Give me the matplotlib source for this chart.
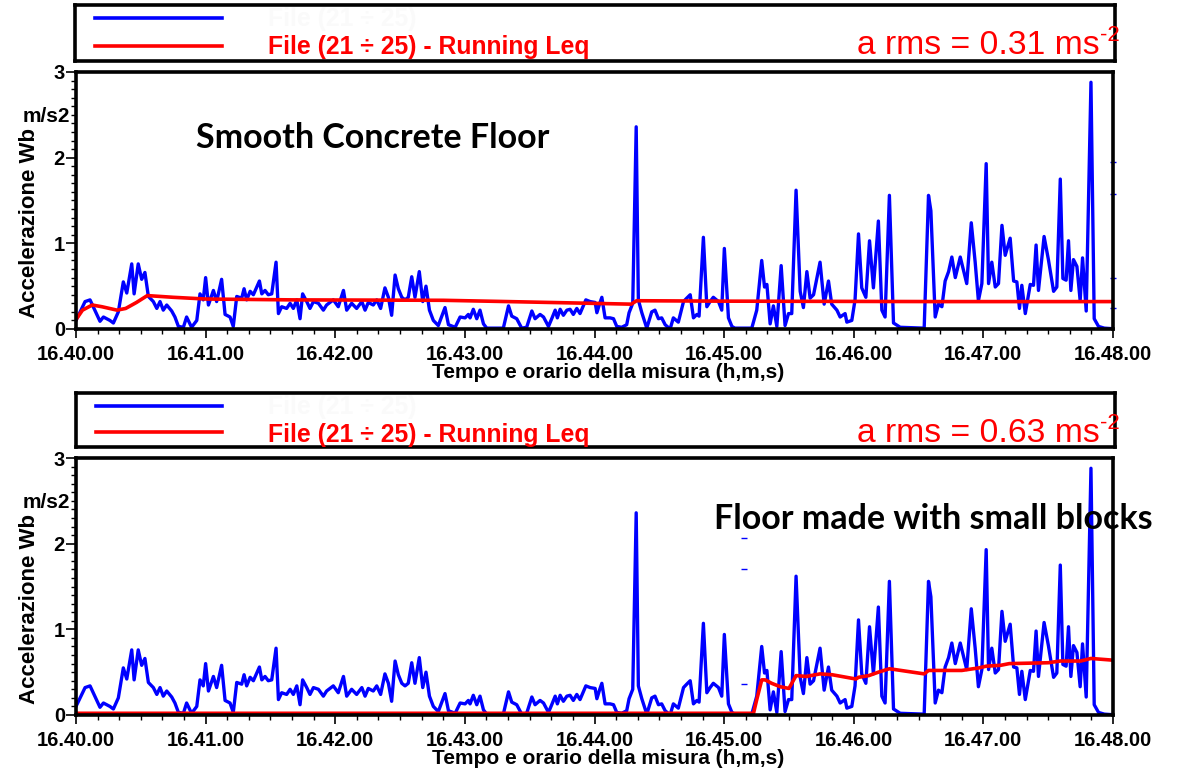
import matplotlib.pyplot as plt
from matplotlib.ticker import MultipleLocator, FuncFormatter

plt.rcParams['font.family'] = ['Liberation Sans', 'DejaVu Sans']

W, H = 1187, 772

# accelerazione Wb (m/s2), tempo in secondi dalle 16.40.00
t_acc = [0, 4.2, 6.5, 11.1, 12.7, 15.7, 17.3, 19.6, 21.9, 23.5, 25.8, 26.9, 28.8, 30.4, 31.9,
         33.5, 35.8, 37.4, 38.9, 40.4, 42.0, 44.3, 45.8, 47.4, 49.7, 51.2, 53.5, 55.9, 57.4,
         58.9, 60.0, 61.3, 63.6, 65.1, 67.4, 69.0, 71.3, 72.8, 74.4, 76.7, 77.8, 79.0, 80.6,
         82.1, 84.9, 86.0, 87.5, 89.0, 90.6, 92.6, 93.7, 95.2, 97.5, 99.1, 100.6, 102.2, 103.7,
         104.9, 106.8, 108.3, 109.9, 112.2, 114.5, 116.0, 119.1, 121.4, 123.8, 125.3, 127.6,
         129.9, 132.3, 133.8, 135.3, 137.6, 139.2, 141.0, 143.0, 144.6, 146.1, 147.7, 149.2,
         150.8, 152.3, 153.8, 155.4, 156.9, 158.9, 160.5, 162.0, 163.6, 165.4, 167.7, 170.8,
         172.4, 175.5, 177.8, 180.1, 181.6, 182.4, 183.9, 185.5, 187.0, 188.6, 190.1, 197.8,
         200.2, 201.7, 204.0, 206.3, 208.6, 211.0, 212.5, 214.8, 216.4, 218.7, 220.2, 221.8,
         222.8, 224.1, 225.6, 227.2, 228.7, 230.2, 231.8, 233.3, 236.0, 238.0, 240.3, 241.1,
         242.3, 243.4, 244.9, 247.2, 248.8, 250.3, 252.6, 254.9, 256.0, 257.7, 259.3, 260.3,
         261.9, 264.2, 266.5, 268.0, 269.6, 271.1, 272.7, 275.0, 276.5, 278.8, 281.2, 282.7,
         284.3, 285.8, 287.4, 288.4, 290.4, 292.0, 293.5, 295.0, 297.4, 298.9, 300.1, 302.0,
         303.6, 305.0, 312.8, 315.1, 317.4, 318.7, 319.8, 321.3, 322.8, 324.4, 326.4, 328.2,
         329.8, 331.3, 333.3, 335.2, 336.7, 338.3, 339.8, 341.4, 344.4, 346.3, 348.3, 349.8,
         352.2, 353.7, 356.0, 356.8, 359.1, 360.6, 362.2, 363.7, 365.6, 367.3, 369.1, 371.4,
         373.0, 374.5, 376.5, 378.4, 381.5, 392.6, 394.6, 395.7, 397.7, 399.2, 400.8, 402.3,
         403.9, 405.4, 407.0, 409.3, 412.3, 414.4, 416.2, 417.7, 419.3, 421.3, 422.4, 423.9,
         425.5, 427.0, 428.6, 430.1, 432.4, 434.0, 435.5, 436.7, 437.8, 439.4, 441.7, 443.2,
         444.4, 445.5, 448.1, 450.1, 452.5, 454.0, 455.6, 456.8, 458.3, 459.4, 460.5, 461.7,
         463.3, 464.8, 465.9, 467.6, 469.8, 471.3, 473.3, 476.0, 482.0]
a_acc = [0.10, 0.32, 0.34, 0.09, 0.14, 0.10, 0.07, 0.20, 0.55, 0.42, 0.76, 0.41, 0.76, 0.58, 0.66,
         0.38, 0.32, 0.24, 0.32, 0.22, 0.28, 0.21, 0.14, 0.03, 0.02, 0.14, 0.02, 0.10, 0.41,
         0.34, 0.60, 0.28, 0.45, 0.32, 0.58, 0.17, 0.14, 0.03, 0.38, 0.36, 0.47, 0.34, 0.44,
         0.40, 0.56, 0.41, 0.45, 0.40, 0.41, 0.78, 0.18, 0.26, 0.24, 0.30, 0.24, 0.34, 0.12,
         0.41, 0.32, 0.24, 0.32, 0.30, 0.22, 0.28, 0.34, 0.26, 0.45, 0.22, 0.30,
         0.24, 0.32, 0.22, 0.31, 0.28, 0.34, 0.24, 0.48, 0.37, 0.16, 0.63, 0.47,
         0.37, 0.34, 0.37, 0.61, 0.37, 0.67, 0.32, 0.50, 0.22, 0.10, 0.04, 0.25,
         0.05, 0.02, 0.14, 0.13, 0.17, 0.13, 0.23, 0.12, 0.22, 0.06, 0.01, 0.01,
         0.27, 0.15, 0.12, 0.01, 0.02, 0.21, 0.12, 0.17, 0.14, 0.03, 0.12, 0.22,
         0.13, 0.23, 0.16, 0.22, 0.23, 0.17, 0.24, 0.18, 0.34, 0.32, 0.31, 0.19,
         0.29, 0.37, 0.13, 0.13, 0.12, 0.03, 0.02, 0.05, 0.19, 0.30, 2.36, 0.34,
         0.19, 0.01, 0.20, 0.22, 0.12, 0.13, 0.05, 0.00, 0.13, 0.08, 0.32, 0.36,
         0.40, 0.13, 0.17, 0.15, 1.07, 0.26, 0.32, 0.37, 0.32, 0.22, 0.94, 0.13,
         0.03, 0.01, 0.01, 0.22, 0.80, 0.49, 0.52, 0.06, 0.27, 0.03, 0.74, 0.04,
         0.18, 0.18, 1.62, 0.44, 0.25, 0.67, 0.36, 0.40, 0.78, 0.29, 0.56, 0.29,
         0.22, 0.14, 0.18, 0.08, 0.10, 0.34, 1.11, 0.48, 0.37, 1.03, 0.48, 1.26,
         0.22, 0.14, 1.56, 0.07, 0.02, 0.01, 1.56, 1.38, 0.14, 0.29, 0.26, 0.56,
         0.67, 0.84, 0.60, 0.84, 0.53, 1.24, 0.78, 0.33, 0.53, 1.93, 0.53, 0.78,
         0.49, 0.53, 1.21, 0.86, 1.06, 0.56, 0.55, 0.24, 0.51, 0.18, 0.52, 0.51,
         0.98, 0.45, 1.08, 0.81, 0.44, 0.49, 1.75, 0.59, 0.57, 1.03, 0.45, 0.81,
         0.73, 0.33, 0.83, 0.21, 2.88, 0.12, 0.03, 0.01, 0.00]

# Running Leq - pavimento liscio
t_leq1 = [0, 3, 7.5, 12, 19, 23, 28, 33, 45, 60, 100, 170, 200, 257, 259.5, 300, 400, 480]
a_leq1 = [0.11, 0.22, 0.28, 0.26, 0.22, 0.24, 0.31, 0.39, 0.37, 0.35, 0.34, 0.335, 0.32,
          0.29, 0.33, 0.325, 0.32, 0.32]

# Running Leq - pavimento a blocchetti
t_leq2 = [0, 313.6, 315, 317.4, 319, 322, 326, 330, 333.3, 338, 344.4, 350, 361, 362.2, 367,
          371.4, 376.5, 392.6, 394.6, 410, 418, 421.3, 428, 432, 450, 455.6, 465, 469.8, 480]
a_leq2 = [0.02, 0.02, 0.17, 0.41, 0.41, 0.37, 0.33, 0.31, 0.46, 0.45, 0.48, 0.47, 0.42, 0.44,
          0.46, 0.50, 0.54, 0.48, 0.52, 0.52, 0.55, 0.57, 0.58, 0.60, 0.61, 0.63, 0.63, 0.66, 0.64]

# trattini blu sparsi
t_dash1 = [480, 480, 480, 480]
a_dash1 = [1.95, 1.58, 0.60, 0.24]
t_dash2 = [309.3, 309.3, 309.3]
a_dash2 = [2.07, 1.70, 0.36]

rms_values = ['0.31', '0.63']
notes = ['Smooth Concrete Floor', 'Floor made with small blocks']


def fx(x):
    return x / W


def fy(y):
    return 1 - y / H


def draw_panel(leg_box, ax_box, t_leq, a_leq, t_dash, a_dash, rms, note, note_xy, y0):
    # riquadro legenda
    lx0, ly0, lx1, ly1 = leg_box
    lg = fig.add_axes([fx(lx0), fy(ly1), fx(lx1 - lx0), (ly1 - ly0) / H])
    lg.set_xlim(0, 1)
    lg.set_ylim(0, 1)
    lg.set_xticks([])
    lg.set_yticks([])
    for s in lg.spines.values():
        s.set_linewidth(2.6)
    lg.plot([0.019, 0.141], [0.76, 0.76], color='#0000ff', lw=2.6)
    lg.plot([0.019, 0.141], [0.27, 0.27], color='#ff0000', lw=2.6)
    fig.text(fx(268), fy(ly0 + 14), 'File (21 \u00f7 25)', color='#fafafa', fontsize=17.8,
             fontweight='bold', va='center')
    fig.text(fx(268), fy(ly0 + 42), 'File (21 \u00f7 25) - Running Leq', color='#ff0000',
             fontsize=17.8, fontweight='bold', va='center')
    fig.text(fx(1100), fy(ly0 + 49), 'a rms = %s ms' % rms,
             color='#ff0000', fontsize=24.2, ha='right', va='baseline')
    fig.text(fx(1100), fy(ly0 + 36), '-2', color='#ff0000', fontsize=16,
             ha='left', va='baseline')

    # grafico
    x0, yt, x1, yb = ax_box
    ax = fig.add_axes([fx(x0), fy(yb), fx(x1 - x0), (yb - yt) / H])
    ax.plot(t_acc, a_acc, color='#0000ff', lw=2.4, zorder=2)
    ax.plot(t_leq, a_leq, color='#ff0000', lw=2.6, zorder=3)
    ax.plot(t_dash, a_dash, ls='none', marker='_', ms=4, mew=1, color='#0000ff', clip_on=False)
    ax.set_xlim(0, 480)
    ax.set_ylim(0, 3)
    for s in ax.spines.values():
        s.set_linewidth(2.6)
        s.set_zorder(4)
    ax.xaxis.set_major_locator(MultipleLocator(60))
    ax.xaxis.set_minor_locator(MultipleLocator(10))
    ax.yaxis.set_major_locator(MultipleLocator(1))
    ax.yaxis.set_minor_locator(MultipleLocator(0.1))
    ax.xaxis.set_major_formatter(FuncFormatter(lambda v, p: '16.%d.00' % (40 + int(round(v / 60)))))
    ax.tick_params(axis='x', which='major', length=6.5, width=1.2, pad=5, labelsize=14.5)
    ax.tick_params(axis='x', which='minor', length=3.6, width=1.0)
    ax.tick_params(axis='y', which='major', length=7, width=1.2, pad=1, labelsize=14.5)
    ax.tick_params(axis='y', which='minor', length=3.6, width=1.0)
    for lab in ax.get_xticklabels() + ax.get_yticklabels():
        lab.set_fontweight('bold')

    fig.text(fx(608), fy(y0 + 301), 'Tempo e orario della misura (h,m,s)', fontsize=15,
             fontweight='bold', ha='center', va='center')
    fig.text(fx(30), fy(y0 + 151), 'Accelerazione Wb', fontsize=16, fontweight='bold',
             rotation=90, ha='center', va='center')
    fig.text(fx(46), fy(y0 + 44), 'm/s2', fontsize=15, fontweight='bold', ha='center', va='center')
    fig.text(fx(note_xy[0]), fy(note_xy[1]), note, fontsize=24.5, fontweight='bold',
             family=['Lato', 'DejaVu Sans'], ha='left', va='baseline')
    return ax


fig = plt.figure(figsize=(W / 100, H / 100), dpi=100)

draw_panel((75, 5, 1115, 61), (76, 72, 1113, 329), t_leq1, a_leq1, t_dash1, a_dash1,
           rms_values[0], notes[0], (196, 148), 72)
draw_panel((76, 393, 1115, 447), (76, 458, 1113, 715), t_leq2, a_leq2, t_dash2, a_dash2,
           rms_values[1], notes[1], (714, 529), 458)

fig.savefig('out.png', dpi=100)
